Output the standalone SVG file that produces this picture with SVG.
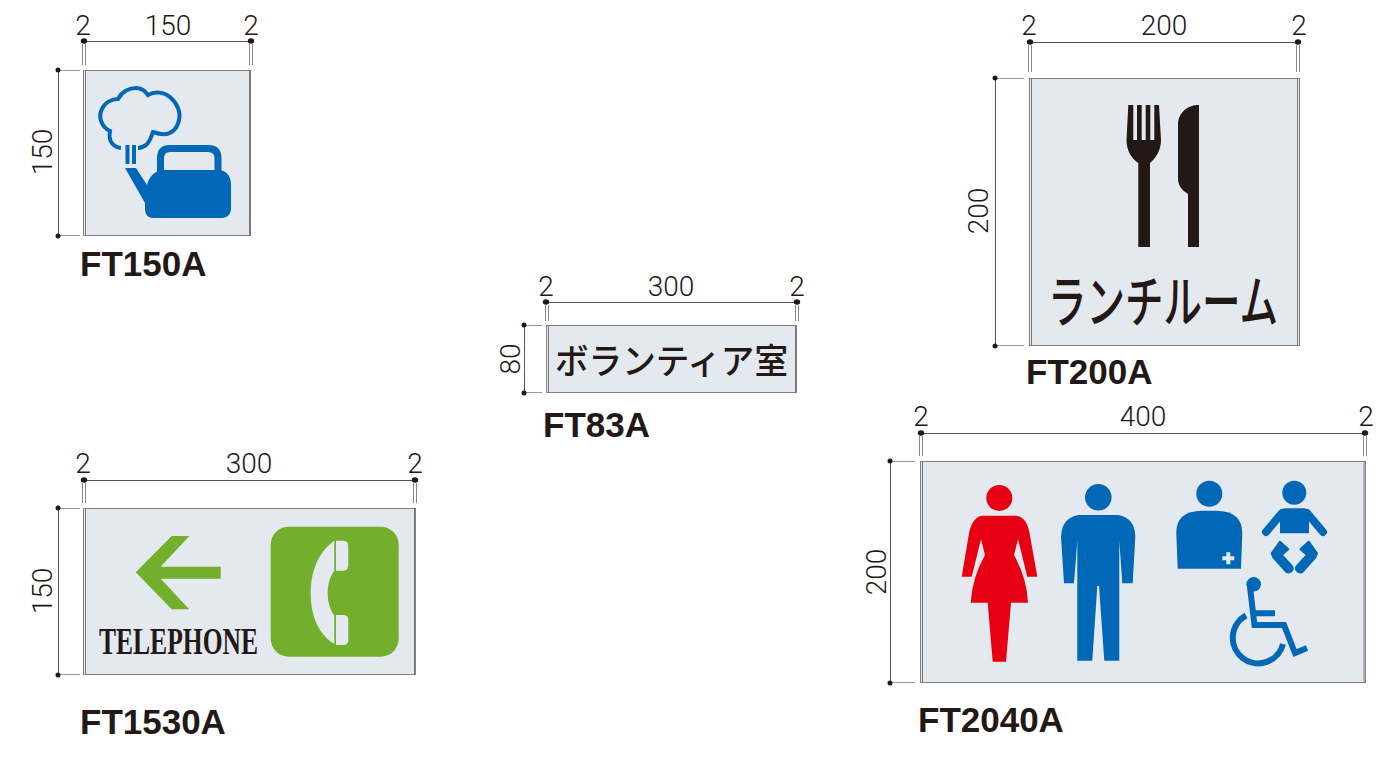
<svg xmlns="http://www.w3.org/2000/svg" width="1400" height="770" viewBox="0 0 1400 770">
<style>
.panel{fill:#e3e9ee;stroke:#808080;stroke-width:1}
.edge{stroke:#777;stroke-width:1;fill:none}
.dim{stroke:#555;stroke-width:1;fill:none}
.tick{stroke:#888;stroke-width:1;fill:none}
.leader{stroke:#999;stroke-width:1;fill:none}
.dot{fill:#231815}
.num{font-family:"Roboto","Liberation Sans",sans-serif;font-weight:300;font-size:28px;fill:#231815;text-anchor:middle}
.code{font-family:"Liberation Sans",Arial,sans-serif;font-weight:700;font-size:35px;fill:#231815}
.jp{font-family:"Noto Sans CJK JP",sans-serif;fill:#231815;font-weight:500}
.blue{fill:#0068b7}.red{fill:#e60012}.green{fill:#72b02c}.dark{fill:#231815}.bg{fill:#e3e9ee}
.bl{stroke:#0068b7;fill:none}
</style>
<rect width="1400" height="770" fill="#fff"/>
<g id="connectors">
<path class="dim" d="M84 41.500H251M58.500 70V236"/><path class="tick" d="M82.500 44V65M85.500 44V65M249.500 44V65M252.500 44V65"/><path class="leader" d="M60 70.500H80M60 235.500H80"/>
<ellipse class="dot" cx="84" cy="41" rx="3.200" ry="2.700"/><ellipse class="dot" cx="251" cy="41" rx="3.200" ry="2.700"/><circle class="dot" cx="58" cy="70" r="2.500"/><circle class="dot" cx="58" cy="236" r="2.500"/>
<path class="dim" d="M1030 42.500H1298M995.500 78V346"/><path class="tick" d="M1028.500 45V72M1031.500 45V72M1296.500 45V72M1299.500 45V72"/><path class="leader" d="M997 78.500H1024M997 345.500H1024"/>
<ellipse class="dot" cx="1030" cy="42" rx="3.200" ry="2.700"/><ellipse class="dot" cx="1298" cy="42" rx="3.200" ry="2.700"/><circle class="dot" cx="995" cy="78" r="2.500"/><circle class="dot" cx="995" cy="346" r="2.500"/>
<path class="dim" d="M546 302.500H797M524.500 325V393"/><path class="tick" d="M545.500 305V321M548.500 305V321M795.500 305V321M798.500 305V321"/><path class="leader" d="M526 325.500H542M526 392.500H542"/>
<ellipse class="dot" cx="546" cy="302" rx="3.200" ry="2.700"/><ellipse class="dot" cx="797" cy="302" rx="3.200" ry="2.700"/><circle class="dot" cx="524" cy="325" r="2.500"/><circle class="dot" cx="524" cy="393" r="2.500"/>
<path class="dim" d="M84 480.500H415M58.500 508V675"/><path class="tick" d="M82.500 483V503M85.500 483V503M413.500 483V503M416.500 483V503"/><path class="leader" d="M60 508.500H80M60 674.500H80"/>
<ellipse class="dot" cx="84" cy="480" rx="3.200" ry="2.700"/><ellipse class="dot" cx="415" cy="480" rx="3.200" ry="2.700"/><circle class="dot" cx="58" cy="508" r="2.500"/><circle class="dot" cx="58" cy="675" r="2.500"/>
<path class="dim" d="M921 433.500H1365M890.500 461V683"/><path class="tick" d="M919.500 436V456M922.500 436V456M1363.500 436V456M1366.500 436V456"/><path class="leader" d="M892 461.500H915M892 682.500H915"/>
<ellipse class="dot" cx="921" cy="433" rx="3.200" ry="2.700"/><ellipse class="dot" cx="1365" cy="433" rx="3.200" ry="2.700"/><circle class="dot" cx="890" cy="461" r="2.500"/><circle class="dot" cx="890" cy="683" r="2.500"/>
</g>
<g id="FT150A">
<rect class="panel" x="83.500" y="70.500" width="167" height="165"/><path class="edge" d="M85.500 70V236M249.500 70V236"/>
<path class="bl" stroke-width="4" d="M121 148C113 147 108 141 110 131C101 127 98 116 102 109C105 102 112 99 118 99C122 91 130 88 136 88C142 88 146 92 148 95C155 91 164 92 170 97C177 103 181 112 179 120C177 130 170 135 162 134C158 134 154 132 153 132C151 137 150 142 146 145C143 147 140 148 138 148"/>
<rect class="blue" x="125.500" y="145" width="4" height="19"/><rect class="blue" x="132" y="145" width="4" height="19"/>
<path class="bl" stroke-width="7" d="M160.500 172V158Q160.500 148.500 170 148.500H208Q218 148.500 218 158V172"/>
<path class="blue" d="M125 168H136L147 185C149 177 155 170 163 170H218C226 170 231 176 231 184V209C231 214 227 218 222 218H153C148 218 145 214 145 209V203Z"/>
<text class="code" x="80" y="276">FT150A</text>
<text class="num" x="83" y="35">2</text><text class="num" x="168" y="35">150</text><text class="num" x="251" y="35">2</text>
<text class="num" transform="translate(52 152) rotate(-90)">150</text>
</g>
<g id="FT200A">
<rect class="panel" x="1029.500" y="78.500" width="270" height="267"/><path class="edge" d="M1031.500 78V346M1297.500 78V346"/>
<path class="dark" d="M1128.300 105H1133.300V140H1137V105H1141.700V140H1145.700V105H1150.300V140H1154.300V105H1159L1161 140C1161 151 1155 159 1150 163V247H1138.300V163C1132 159 1126.500 151 1126.500 140Z"/>
<path class="dark" d="M1199 105V247H1188V194C1182 190 1178 186 1178 178V125C1178 113 1187 105 1199 105Z"/>
<text class="jp" x="1048" y="321.500" font-size="56" textLength="230" lengthAdjust="spacingAndGlyphs">ランチルーム</text>
<text class="code" x="1026" y="384">FT200A</text>
<text class="num" x="1029" y="35">2</text><text class="num" x="1164" y="35">200</text><text class="num" x="1299" y="35">2</text>
<text class="num" transform="translate(988 211) rotate(-90)">200</text>
</g>
<g id="FT83A">
<rect class="panel" x="546.500" y="325.500" width="250" height="67"/><path class="edge" d="M548.500 325V393M795.500 325V393"/>
<text class="jp" x="555" y="374" font-size="35.500" textLength="233" lengthAdjust="spacingAndGlyphs">ボランティア室</text>
<text class="code" x="543" y="437">FT83A</text>
<text class="num" x="546" y="296">2</text><text class="num" x="671" y="296">300</text><text class="num" x="797" y="296">2</text>
<text class="num" transform="translate(520 359) rotate(-90)">80</text>
</g>
<g id="FT1530A">
<rect class="panel" x="83.500" y="508.500" width="332" height="166"/><path class="edge" d="M85.500 508V675M414.500 508V675"/>
<path class="green" d="M135.700 572.300L171.700 536H189.300L160.700 566.700H220.700V578.700H160.700L189.300 609.300H171.700Z"/>
<text x="99" y="654" font-family="Liberation Serif,serif" font-weight="700" font-size="37" fill="#231815" textLength="159" lengthAdjust="spacingAndGlyphs">TELEPHONE</text>
<rect class="green" x="270.700" y="526.700" width="128" height="130" rx="18"/>
<path class="bg" d="M334.300 540.700C318 552 310.700 572 310.700 593.300C310.700 615 318 634 334.300 644V616C329 608 327.700 600 327.700 593.300C327.700 586 329 578 334.300 570.700Z"/>
<path class="bg" d="M336 540.700H343Q348.300 540.700 348.300 546V565Q348.300 570.700 343 570.700H336Z"/>
<path class="bg" d="M336 615H343Q348.300 615 348.300 620V640Q348.300 645 343 645H336Z"/>
<text class="code" x="80" y="734">FT1530A</text>
<text class="num" x="83" y="473">2</text><text class="num" x="249" y="473">300</text><text class="num" x="415" y="473">2</text>
<text class="num" transform="translate(52 591) rotate(-90)">150</text>
</g>
<g id="FT2040A">
<rect class="panel" x="920.500" y="461.500" width="445" height="221"/><path class="edge" d="M922.500 461V683M1364 461V683"/>
<circle class="red" cx="999.300" cy="498" r="13"/>
<path class="red" d="M983.300 515.700H1015Q1026 516 1029.300 531.700L1037.300 576.700H1027.300L1018 539.300L1014 555Q1027 578 1028 602.700H1011L1006 661.700H992.700L987.700 602.700H970.700Q972 578 985 555L981 539.300L971.700 576.700H961.700L969.300 531.700Q973 516 983.300 515.700Z"/>
<circle class="blue" cx="1098.300" cy="497.300" r="13.300"/>
<path class="blue" d="M1078.300 515H1118.300Q1135 518 1135.300 536.700L1132.700 583.300H1122.300L1119.300 540.700V660.700H1104.300L1099 586H1097.300L1092.300 660.700H1077.300V540.700L1074 583.300H1064L1061 536.700Q1061.700 518 1078.300 515Z"/>
<circle class="blue" cx="1209.300" cy="493.700" r="13"/>
<path class="blue" d="M1177.700 568.700H1241L1242.300 533.300Q1242.300 511 1216 510.700H1202Q1176 511 1176.300 533.300Z"/>
<path class="bg" d="M1226.300 552.300H1230.300V556.300H1234.300V560.300H1230.300V564.300H1226.300V560.300H1222.300V556.300H1226.300Z"/>
<circle class="blue" cx="1294.300" cy="492.700" r="12"/>
<path class="blue" d="M1284 508.300H1305L1309 511V533.300H1280V511Z"/>
<path class="bl" stroke-width="8" stroke-linecap="round" d="M1282 513L1266 532M1307 513L1323 532"/>
<path class="blue" stroke="#0068b7" stroke-width="2" stroke-linejoin="round" d="M1280 541.700L1288.300 549.300L1281.700 555L1291.700 566C1293.500 568 1293 570 1291 571.500C1289 573 1287.500 573 1286 571.500L1273.300 557.300L1271.700 553.300Z"/>
<path class="blue" stroke="#0068b7" stroke-width="2" stroke-linejoin="round" d="M1308.700 541.700L1300.400 549.300L1307 555L1297 566C1295.200 568 1295.700 570 1297.700 571.500C1299.700 573 1301.200 573 1302.700 571.500L1315.400 557.300L1317 553.300Z"/>
<circle class="blue" cx="1253.700" cy="584.300" r="7.300"/>
<path class="bl" stroke-width="6" d="M1250 587L1254.500 625H1284L1295 653L1307 648M1255 613.300H1275"/>
<path class="bl" stroke-width="6" d="M1246 615.500A25.500 25.500 0 1 0 1283 644"/>
<text class="code" x="918" y="732">FT2040A</text>
<text class="num" x="921" y="426">2</text><text class="num" x="1143" y="426">400</text><text class="num" x="1366" y="426">2</text>
<text class="num" transform="translate(886 572) rotate(-90)">200</text>
</g>
</svg>
